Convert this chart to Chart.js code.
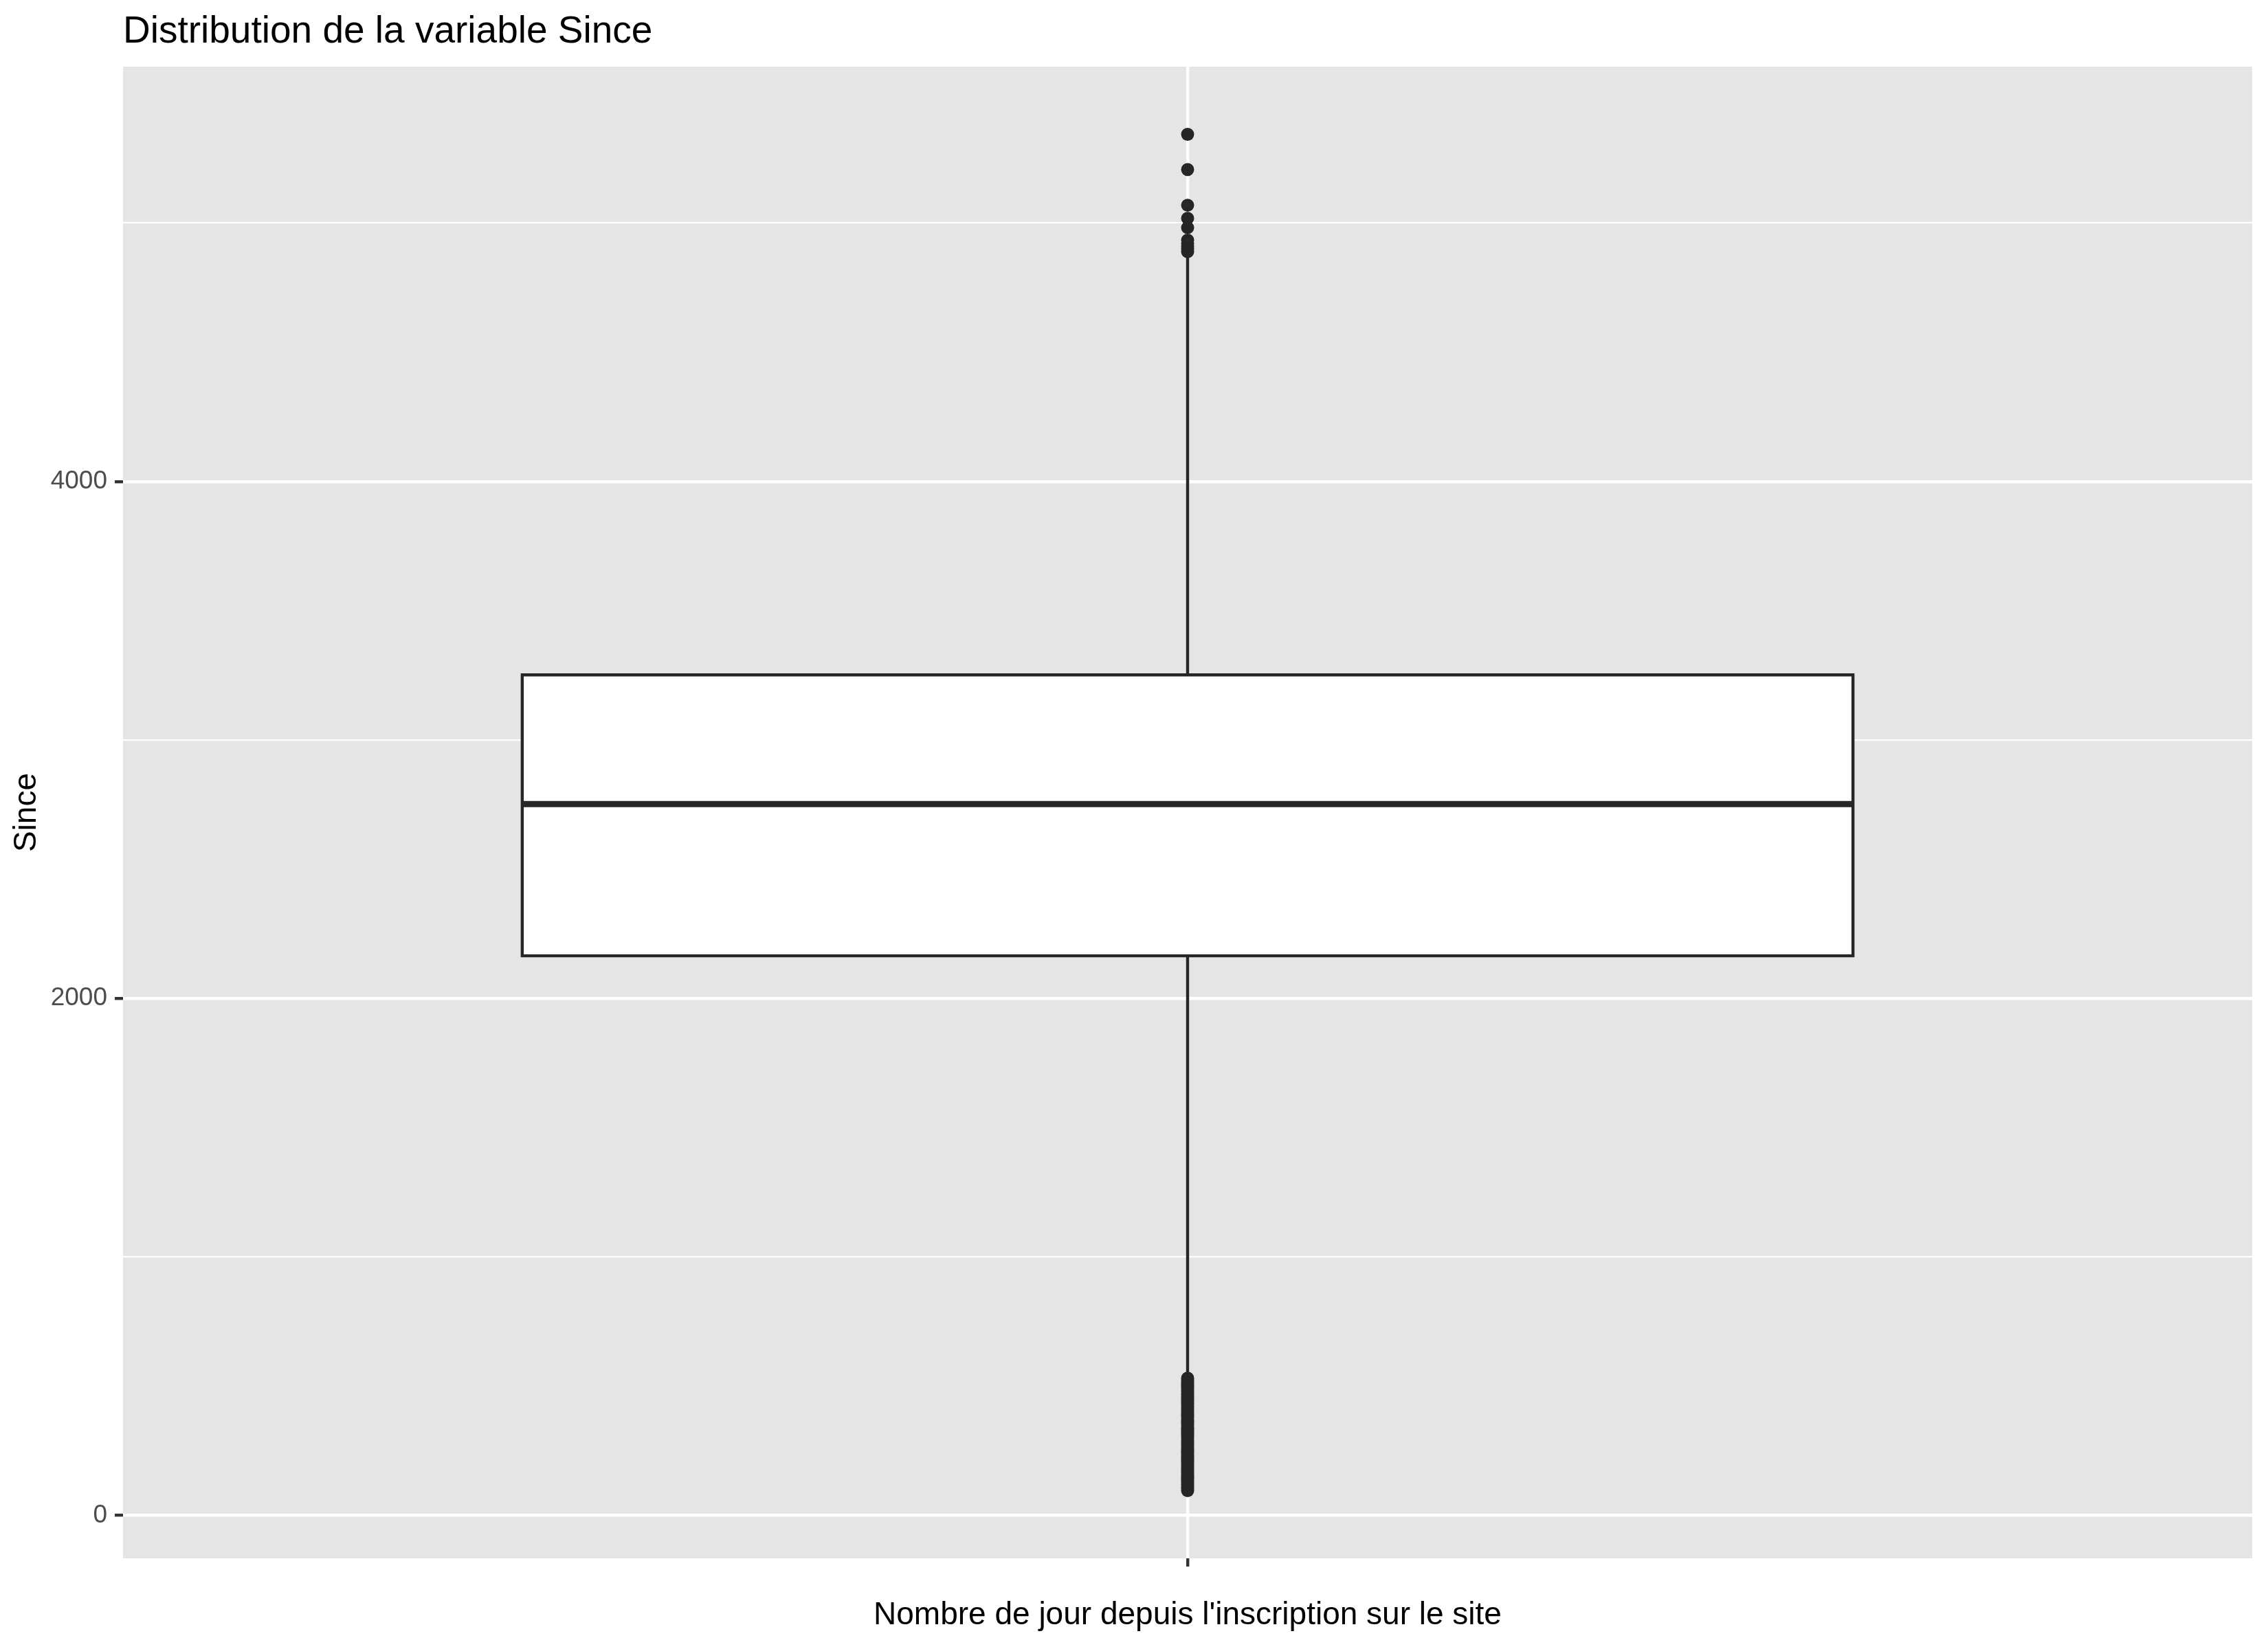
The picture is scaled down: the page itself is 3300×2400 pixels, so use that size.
<!DOCTYPE html>
<html><head><meta charset="utf-8">
<script src="https://cdn.jsdelivr.net/npm/chart.js@4.4.1/dist/chart.umd.min.js"></script>
<style>html,body{margin:0;padding:0;background:#fff}canvas{display:block}</style>
</head><body>
<canvas id="c" width="3300" height="2400" style="width:3300px;height:2400px"></canvas>
<script>
// ---- data ----
const chartTitle = 'Distribution de la variable Since';
const xAxisTitle = "Nombre de jour depuis l'inscription sur le site";
const yAxisTitle = 'Since';
const categories = [1];
const boxQ1 = [2165];
const boxMedian = [2752];
const boxQ3 = [3252];
const whiskerLow = [535];
const whiskerHigh = [4878];
const outliersHigh = [5343, 5207, 5069, 5018, 4982, 4934, 4922, 4911, 4900, 4889];
const outliersLow = [531, 524, 517, 510, 503, 495, 488, 481, 473, 466, 459, 452, 444, 437, 430, 422, 415, 408, 401, 393, 386, 379, 371, 364, 357, 350, 342, 335, 328, 320, 313, 306, 299, 291, 284, 277, 270, 262, 255, 248, 240, 233, 226, 219, 211, 204, 197, 189, 181, 175, 168, 160, 152, 146, 139, 131, 124, 117, 109, 103, 96];
const yTickValues = [0, 1000, 2000, 3000, 4000, 5000];
const yTickLabels = ['0', '', '2000', '', '4000', ''];
const yRange = [-166, 5605];
const xRange = [0.4, 1.6];

// ---- style ----
const FONT = "'Liberation Sans', Arial, Helvetica, sans-serif";
const INK = '#262626';
const boxHalf = 0.375;
Chart.defaults.font.family = FONT;

const bgPlugin = {
  id: 'bg',
  beforeDraw(chart) {
    const {ctx, chartArea: a} = chart;
    ctx.save();
    ctx.fillStyle = '#ffffff';
    ctx.fillRect(0, 0, chart.width, chart.height);
    ctx.fillStyle = '#E5E5E5';
    ctx.fillRect(a.left, a.top, a.right - a.left, a.bottom - a.top);
    ctx.restore();
  }
};

const datasets = [];
categories.forEach((cx, i) => {
  const q1 = boxQ1[i], q3 = boxQ3[i], med = boxMedian[i];
  const L = cx - boxHalf, R = cx + boxHalf;
  datasets.push({
    type: 'scatter', label: 'outliers',
    data: outliersHigh.concat(outliersLow).map(y => ({x: cx, y})),
    pointRadius: 9.5, pointHoverRadius: 9.5, pointBackgroundColor: INK, pointBorderWidth: 0, order: 0
  });
  datasets.push({
    type: 'line', label: 'median',
    data: [{x: L, y: med}, {x: R, y: med}],
    borderColor: INK, borderWidth: 8.9, pointRadius: 0, borderCapStyle: 'butt', fill: false, order: 1
  });
  datasets.push({
    type: 'line', label: 'box',
    data: [{x: L, y: q1}, {x: R, y: q1}, {x: R, y: q3}, {x: L, y: q3}, {x: L, y: q1}, {x: R, y: q1}],
    borderColor: INK, borderWidth: 4.4, pointRadius: 0, borderJoinStyle: 'miter', fill: false, order: 2
  });
  datasets.push({
    type: 'line', label: 'whisker high',
    data: [{x: cx, y: q3}, {x: cx, y: whiskerHigh[i]}],
    borderColor: INK, borderWidth: 4.4, pointRadius: 0, fill: false, order: 3
  });
  datasets.push({
    type: 'line', label: 'whisker low',
    data: [{x: cx, y: whiskerLow[i]}, {x: cx, y: q1}],
    borderColor: INK, borderWidth: 4.4, pointRadius: 0, fill: false, order: 3
  });
  datasets.push({
    type: 'line', label: 'box fill',
    data: [{x: L, y: q3}, {x: R, y: q3}],
    borderColor: 'rgba(0,0,0,0)', borderWidth: 0, pointRadius: 0,
    fill: {value: q1}, backgroundColor: '#ffffff', order: 4
  });
});

const isMajor = v => yTickLabels[yTickValues.indexOf(v)] !== '';

new Chart(document.getElementById('c'), {
  type: 'scatter',
  data: {datasets},
  plugins: [bgPlugin],
  options: {
    responsive: false,
    devicePixelRatio: 1,
    animation: false,
    events: [],
    layout: {padding: {left: 0, right: 23, top: 0, bottom: 0}},
    plugins: {
      legend: {display: false},
      tooltip: {enabled: false},
      title: {
        display: true, text: chartTitle, align: 'start', fullSize: false,
        color: '#000000', font: {family: FONT, size: 55, weight: 'normal'},
        padding: {top: 14, bottom: 17}
      }
    },
    scales: {
      x: {
        type: 'linear', min: xRange[0], max: xRange[1],
        afterBuildTicks: s => { s.ticks = categories.map(v => ({value: v})); },
        afterFit: s => { s.height = 132; },
        ticks: {callback: () => '', font: {size: 37}, padding: 0, maxRotation: 0},
        grid: {color: '#ffffff', lineWidth: 4.4, tickLength: 12, tickColor: '#333333', tickWidth: 4.4},
        border: {display: false},
        title: {display: true, text: xAxisTitle, color: '#000000', font: {family: FONT, size: 46}, padding: {top: 0, bottom: 21}}
      },
      y: {
        type: 'linear', min: yRange[0], max: yRange[1],
        afterBuildTicks: s => { s.ticks = yTickValues.map(v => ({value: v})); },
        afterFit: s => { s.width = 179; },
        ticks: {
          callback: (v) => yTickLabels[yTickValues.indexOf(v)],
          font: {family: FONT, size: 37}, color: '#4D4D4D', padding: 11
        },
        grid: {
          color: '#ffffff',
          lineWidth: ctx => (ctx.tick && isMajor(ctx.tick.value)) ? 4.4 : 2.2,
          tickLength: 12,
          tickColor: ctx => (ctx.tick && isMajor(ctx.tick.value)) ? '#333333' : 'rgba(0,0,0,0)',
          tickWidth: 4.4
        },
        border: {display: false},
        title: {display: true, text: yAxisTitle, color: '#000000', font: {family: FONT, size: 46}, padding: {top: 12, bottom: 0}}
      }
    }
  }
});
</script>
</body></html>
